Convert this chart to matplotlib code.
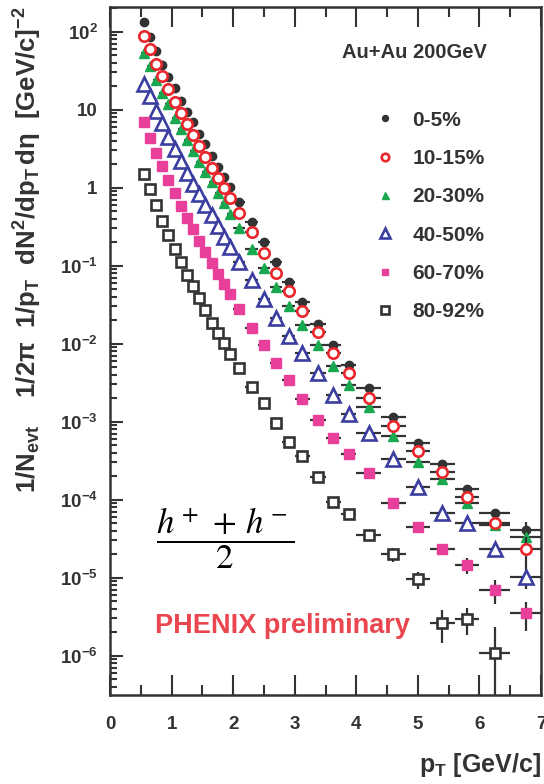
import matplotlib
matplotlib.use("Agg")
import matplotlib.pyplot as plt
from matplotlib.lines import Line2D
from matplotlib.ticker import FixedLocator, MultipleLocator, LogLocator, NullFormatter

plt.rcParams['font.family'] = ['Liberation Sans', 'DejaVu Sans']
plt.rcParams['mathtext.fontset'] = 'custom'
plt.rcParams['mathtext.rm'] = 'Liberation Sans'
plt.rcParams['mathtext.bf'] = 'Liberation Sans:bold'
plt.rcParams['mathtext.it'] = 'Liberation Sans:italic'

# pT bin centres and half widths [GeV/c]
pt = [0.55, 0.65, 0.75, 0.85, 0.95, 1.05, 1.15, 1.25, 1.35, 1.45,
      1.55, 1.65, 1.75, 1.85, 1.95, 2.1, 2.3, 2.5, 2.7, 2.9,
      3.125, 3.375, 3.625, 3.875, 4.2, 4.6, 5.0, 5.4, 5.8, 6.25, 6.75]
pt_half = [0.05] * 15 + [0.1] * 5 + [0.125] * 4 + [0.2] * 5 + [0.25] * 2

# (h+ + h-)/2 invariant yields per centrality class
y_0_5 = [132, 85, 57, 37.4, 26.2, 18.8, 13.0, 9.4, 6.9, 4.87,
         3.6, 2.57, 1.86, 1.38, 1.01, 0.65, 0.36, 0.201, 0.112, 0.0624,
         0.0343, 0.0179, 0.00953, 0.00533, 0.00273, 0.00114, 5.28e-4, 2.87e-4, 1.38e-4, 6.7e-5, 4.1e-5]
y_10_15 = [88, 59.5, 38.2, 27.0, 18.4, 12.7, 9.16, 6.56, 4.78, 3.45,
           2.49, 1.80, 1.34, 1.0, 0.745, 0.47, 0.268, 0.144, 0.0813, 0.0474,
           0.0263, 0.01426, 0.00767, 0.00425, 0.00203, 8.8e-4, 4.25e-4, 2.29e-4, 1.09e-4, 5.07e-5, 2.31e-5]
y_20_30 = [53.8, 36, 23.8, 16.2, 11.7, 7.89, 5.66, 4.09, 2.98, 2.15,
           1.60, 1.17, 0.847, 0.64, 0.46, 0.30, 0.165, 0.0925, 0.0528, 0.0304,
           0.0174, 0.0096, 0.00523, 0.00295, 0.00153, 6.6e-4, 3.07e-4, 1.83e-4, 9.0e-5, 4.7e-5, 3.3e-5]
y_40_50 = [21.2, 15.1, 9.6, 6.7, 4.51, 3.13, 2.2, 1.52, 1.12, 0.82,
           0.6, 0.447, 0.323, 0.231, 0.172, 0.11, 0.066, 0.037, 0.0212, 0.01256,
           0.00753, 0.00418, 0.0022, 0.00124, 7.1e-4, 3.3e-4, 1.47e-4, 6.7e-5, 5.07e-5, 2.31e-5, 1.01e-5]
y_60_70 = [6.9, 4.3, 2.8, 1.88, 1.24, 0.863, 0.582, 0.412, 0.296, 0.21,
           0.15, 0.109, 0.0783, 0.0582, 0.0433, 0.028, 0.0158, 0.0096, 0.0057, 0.0034,
           0.00195, 0.00105, 6.1e-4, 3.85e-4, 2.18e-4, 9.0e-5, 4.5e-5, 2.31e-5, 1.46e-5, 6.95e-6, 3.5e-6]
y_80_92 = [1.48, 0.95, 0.6, 0.374, 0.248, 0.162, 0.11, 0.076, 0.055, 0.0382,
           0.027, 0.0186, 0.0138, 0.0103, 0.00738, 0.00483, 0.00276, 0.00175, 9.5e-4, 5.5e-4,
           3.63e-4, 1.97e-4, 9.4e-5, 6.6e-5, 3.5e-5, 2.0e-5, 9.5e-6, 2.65e-6, 2.93e-6, 1.09e-6]

# statistical errors (only visible at high pT)
e_0_5 = [0] * 25 + [3e-5, 1.5e-5, 1e-5, 7e-6, 6e-6, 1e-5]
e_10_15 = [0] * 28 + [6e-6, 5e-6, 1e-5]
e_20_30 = [0] * 29 + [5e-6, 8e-6]
e_40_50 = [0] * 28 + [4e-6, 3.5e-6, 3e-6]
e_60_70 = [0] * 27 + [3.6e-6, 3.3e-6, 2.3e-6, 1.4e-6]
e_80_92 = [0] * 24 + [2e-6, 4e-6, 2.3e-6, 1.2e-6, 1.1e-6, 1.25e-6]

labels = ['0-5%', '10-15%', '20-30%', '40-50%', '60-70%', '80-92%']
yields = [y_0_5, y_10_15, y_20_30, y_40_50, y_60_70, y_80_92]
errors = [e_0_5, e_10_15, e_20_30, e_40_50, e_60_70, e_80_92]

y_ticks = [1e-6, 1e-5, 1e-4, 1e-3, 1e-2, 1e-1, 1, 10, 1e2]
y_ticklabels = [r'$\mathbf{10^{-6}}$', r'$\mathbf{10^{-5}}$', r'$\mathbf{10^{-4}}$',
                r'$\mathbf{10^{-3}}$', r'$\mathbf{10^{-2}}$', r'$\mathbf{10^{-1}}$',
                '1', '10', r'$\mathbf{10^{2}}$']

dark = '#333333'
styles = [
    dict(marker='o', ms=6, mfc=dark, mec=dark, mew=1.0, z=4),
    dict(marker='o', ms=7.5, mfc='white', mec='#e8262c', mew=1.9, z=6),
    dict(marker='^', ms=7, mfc='#19a84f', mec='#19a84f', mew=1.0, z=5),
    dict(marker='^', ms=9.5, mfc='white', mec='#3b3ea0', mew=1.9, z=3),
    dict(marker='s', ms=6.5, mfc='#e8409a', mec='#e8409a', mew=1.0, z=3),
    dict(marker='s', ms=7.5, mfc='white', mec=dark, mew=1.9, z=3),
]

fig = plt.figure(figsize=(5.44, 7.84), dpi=100)
ax = fig.add_axes([0.2022, 0.1135, 0.7923, 0.878])
ax.set_yscale('log')

handles = []
for lab, y, err, st in zip(labels, yields, errors, styles):
    n = len(y)
    ax.errorbar(pt[:n], y, xerr=pt_half[:n], yerr=err, fmt=st['marker'],
                ms=st['ms'], mfc=st['mfc'], mec=st['mec'], mew=st['mew'],
                ecolor=dark, elinewidth=1.6, capsize=0, zorder=st['z'])
    handles.append(Line2D([], [], ls='none', marker=st['marker'], ms=st['ms'] * 0.72,
                          mfc=st['mfc'], mec=st['mec'], mew=st['mew'], label=lab))

ax.set_xlim(0, 7)
ax.set_ylim(3.13e-7, 2.09e2)

ax.xaxis.set_major_locator(MultipleLocator(1))
ax.xaxis.set_minor_locator(MultipleLocator(0.5))
ax.yaxis.set_major_locator(FixedLocator(y_ticks))
ax.set_yticklabels(y_ticklabels)
ax.yaxis.set_minor_locator(LogLocator(base=10, subs=range(2, 10), numticks=20))
ax.yaxis.set_minor_formatter(NullFormatter())

for s in ax.spines.values():
    s.set_linewidth(1.8)
    s.set_color(dark)
ax.tick_params(which='both', direction='in', top=True, right=False,
               color=dark, width=1.5, labelcolor=dark, labelsize=13.5)
ax.tick_params(axis='x', which='major', length=14.5, pad=15)
ax.tick_params(axis='x', which='minor', length=7)
ax.tick_params(axis='y', which='major', length=9, pad=9)
ax.tick_params(axis='y', which='minor', length=5)
for t in ax.get_xticklabels() + ax.get_yticklabels():
    t.set_fontweight('bold')

ax.legend(handles=handles, loc='upper left', bbox_to_anchor=(0.614, 0.849),
          frameon=False, handlelength=1.0, handletextpad=0.8,
          labelspacing=0.93, borderpad=0, borderaxespad=0, labelcolor=dark,
          prop={'weight': 'bold', 'size': 15})

ax.text(0.538, 0.933, 'Au+Au 200GeV', transform=ax.transAxes, ha='left', va='center',
        fontsize=14.5, fontweight='bold', color=dark)
ax.text(0.267, 0.228, r'$\dfrac{h^+ \,+\, h^-}{2}$', transform=ax.transAxes, ha='center',
        va='center', fontsize=25, math_fontfamily='stix', color='black')
ax.text(0.104, 0.1003, 'PHENIX preliminary', transform=ax.transAxes, ha='left', va='center',
        fontsize=19.5, fontweight='bold', color='#e94650')

fig.text(28 / 544, 1 - 250 / 784,
         r'$\mathbf{1/N_{evt}\ \ \ \ 1/2\pi\ \ 1/p_{T}\ \ dN^{2}/dp_{T}\,d\eta\ \ [GeV/c]^{-2}}$',
         rotation=90, ha='center', va='center', fontsize=18.5, color=dark)
fig.text(541 / 544, 1 - 765 / 784, r'$\mathbf{p_{T}\ [GeV/c]}$', ha='right', va='center',
         fontsize=18, color=dark)

fig.savefig('out.png', dpi=100)
